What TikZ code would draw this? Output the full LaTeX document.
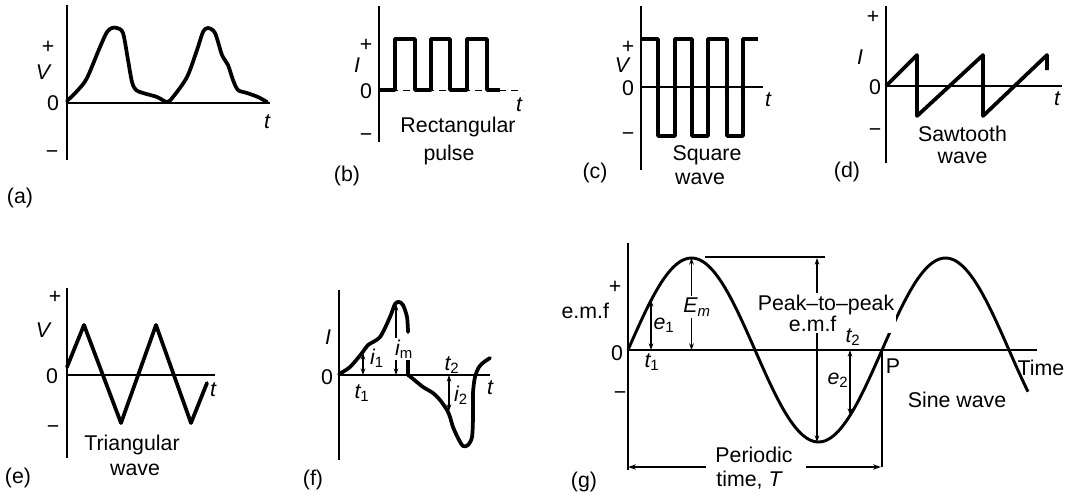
\documentclass[tikz,border=0pt]{standalone}
\usepackage{fontspec}
\setmainfont{Liberation Sans}
\usetikzlibrary{arrows.meta}
\begin{document}
\begin{tikzpicture}[x=0.75pt,y=-0.75pt,
  every node/.style={inner sep=0pt,outer sep=0pt,font=\fontsize{16}{18}\selectfont},
  axis/.style={line width=1.8pt},
  wave/.style={line width=2.8pt,line join=round,line cap=round},
  swave/.style={line width=2.2pt,line join=round},
  dim/.style={line width=0.8pt,{Stealth[length=5pt,width=3.5pt]}-{Stealth[length=5pt,width=3.5pt]}},
  tip/.style={line width=1.3pt,-{Stealth[length=6pt,width=4pt]}},
  wb/.style={fill=white,inner sep=1.2pt}
]
\useasboundingbox (0,0) rectangle (1073,494);

% ---------- (a)
\draw[axis] (67,5) -- (67,160);
\draw[axis] (67,103) -- (270,103);
\draw[wave] plot[smooth,tension=0.5] coordinates {(67,101) (78,90) (87,78) (100,47) (107,32) (112,28) (117,28) (123,33) (128,60) (132,82) (136,90) (143,93) (157,97) (167,102) (173,97) (187,77) (197,50) (203,32) (208,28) (215,33) (222,55) (228,65) (233,80) (238,90) (247,93) (258,97) (267,102)};
\node (ap) at (48,47) {+};
\node (aV) at (43,72) {\itshape V};
\node (a0) at (53,103) {0};
\node (am) at (52,155) {−};
\node (at) at (267,122) {\itshape t};
\node (alab) at (20,198) {(a)};

% ---------- (b)
\draw[axis] (379,6) -- (379,142);
\draw[line width=0.7pt,dash pattern=on 5pt off 4pt] (379,90) -- (523,90);
\draw[wave,line cap=butt] (379,90) -- (395,90) -- (395,39) -- (415,39) -- (415,90) -- (431,90) -- (431,39) -- (450,39) -- (450,90) -- (467,90) -- (467,39) -- (487,39) -- (487,90) -- (500,90);
\node (bp) at (366,45) {+};
\node (bI) at (357,65) {\itshape I};
\node (b0) at (366,91) {0};
\node (bm) at (366,138) {−};
\node (bt) at (519,105) {\itshape t};
\node (bt1) at (458,127) {Rectangular};
\node (bt2) at (449,155) {pulse};
\node (blab) at (347,176) {(b)};

% ---------- (c)
\draw[axis] (641,6) -- (641,170);
\draw[axis] (641,87) -- (763,87);
\draw[wave,line cap=butt] (641,39) -- (658,39) -- (658,136) -- (675,136) -- (675,39) -- (692,39) -- (692,136) -- (708,136) -- (708,39) -- (727,39) -- (727,136) -- (743,136) -- (743,39) -- (758,39);
\foreach \xx in {658,675,692,708,727,743} \fill (\xx,87) circle[radius=2.6];
\node (cp) at (628,47) {+};
\node (cV) at (622,65) {\itshape V};
\node (c0) at (628,88) {0};
\node (cm) at (628,137) {−};
\node (ct) at (768,100) {\itshape t};
\node (ct1) at (707,155) {Square};
\node (ct2) at (700,179) {wave};
\node (clab) at (595,173) {(c)};

% ---------- (d)
\draw[axis] (886,6) -- (886,163);
\draw[axis] (886,86) -- (1062,86);
\draw[wave,line cap=butt] (886,86) -- (917,55) -- (917,116) -- (983,55) -- (983,116) -- (1047,55) -- (1047,70);
\node (dp) at (873,17) {+};
\node (dI) at (860,57) {\itshape I};
\node (d0) at (875,87) {0};
\node (dm) at (875,133) {−};
\node (dt) at (1057,99) {\itshape t};
\node[align=center,font=\fontsize{16}{16.5}\selectfont] (dtx) at (962.5,145) {Sawtooth\\wave};
\node (dlab) at (847,172) {(d)};

% ---------- (e)
\draw[axis] (67,288) -- (67,458);
\draw[axis] (67,375) -- (215,375);
\draw[wave] (67,367) -- (84,325) -- (121,423) -- (156,325) -- (191,423) -- (207,383);
\node (ep) at (55,297) {+};
\node (eV) at (43,330) {\itshape V};
\node (e0) at (52,376) {0};
\node (em) at (53,430) {−};
\node (et) at (213,390) {\itshape t};
\node (et1) at (132,445) {Triangular};
\node (et2) at (135,470) {wave};
\node (elab) at (18,478) {(e)};

% ---------- (f)
\draw[axis] (339,290) -- (339,460);
\draw[axis] (339,375) -- (490,375);
\draw[wave] plot[smooth,tension=0.5] coordinates {(339,374) (350,367) (362,353) (368,345) (380,337) (390,317) (395,304) (399,302) (403,305) (407,317) (408,332)};
\draw[wave,line cap=butt] (408,355) -- (408,375);
\draw[wave] plot[smooth,tension=0.5] coordinates {(408,375) (412,378) (423,387) (433,393) (440,400) (447,410) (450,417) (453,427) (458,438) (463,446) (468,445) (472,437) (473,417) (473,393) (475,377) (479,367) (484,362) (490,358)};
\coordinate (fi1a) at (363,375); \coordinate (fi1b) at (363,353);
\draw[dim] (fi1a) -- (fi1b);
\coordinate (fima) at (396,375); \coordinate (fimb) at (396,304);
\draw[dim] (fima) -- (fimb);
\coordinate (fi2a) at (449,375); \coordinate (fi2b) at (449,411);
\draw[dim] (fi2a) -- (fi2b);
\node (fI) at (328,337) {\itshape I};
\node (f0) at (327,377) {0};
\node (ft1) at (362,393) {\itshape t\textsubscript{\upshape 1}};
\node (fi1) at (377,358) {\itshape i\textsubscript{\upshape 1}};
\node[wb] (fim) at (404,349) {\itshape i\textsubscript{\upshape m}};
\node (ft2) at (452,365) {\itshape t\textsubscript{\upshape 2}};
\node (fi2) at (461,395) {\itshape i\textsubscript{\upshape 2}};
\node (ft) at (490,388) {\itshape t};
\node (flab) at (313,480) {(f)};

% ---------- (g)
\draw[line width=1.6pt] (628,243) -- (628,470);
\draw[line width=1.6pt] (628,350) -- (1037,350);
\draw[swave] plot[domain=628:1028,samples=161,smooth] (\x,{350-92*sin(1.417323*(\x-628))});
\draw[line width=1.8pt] (705,257) -- (825,257);
\coordinate (gEa) at (691.5,350); \coordinate (gEb) at (691.5,258);
\draw[dim] (gEa) -- (gEb);
\coordinate (g1a) at (651,350); \coordinate (g1b) at (651,300);
\draw[dim] (g1a) -- (g1b);
\coordinate (g2a) at (850,350); \coordinate (g2b) at (850,415);
\draw[dim] (g2a) -- (g2b);
\coordinate (gpa) at (817,258); \coordinate (gpb) at (817,442);
\draw[dim] (gpa) -- (gpb);
\coordinate (gP) at (882,350); \coordinate (gPb) at (882,467);
\draw[line width=2.2pt] (gP) -- (gPb);
\coordinate (gL) at (628,467); \coordinate (gL1) at (706,467);
\coordinate (gR1) at (806,467); \coordinate (gR) at (881,467);
\draw[tip] (gL1) -- (gL);
\draw[tip] (gR1) -- (gR);
\node (gp) at (615,287) {+};
\node[anchor=east] (gemf) at (609,311) {e.m.f};
\node (g0) at (617,353) {0};
\node (gm) at (620,396) {−};
\node (gt1) at (652,362) {\itshape t\textsubscript{\upshape 1}};
\node (ge1) at (664,325) {\itshape e\textsubscript{\upshape 1}};
\node[wb] (gEm) at (697,307) {\itshape E\textsubscript{m}};
\node[wb,align=center,font=\fontsize{16}{11.5}\selectfont] (gpk) at (826,313) {Peak–to–peak\\e.m.f\rule{20pt}{0pt}};
\node (gt2) at (853,337) {\itshape t\textsubscript{\upshape 2}};
\node (ge2) at (838,380) {\itshape e\textsubscript{\upshape 2}};
\node (gPl) at (893,366) {P};
\node (gtime) at (1041,368) {Time};
\node (gsine) at (957,400) {Sine wave};
\node (gper) at (754,455) {Periodic};
\node (gper2) at (749,480) {time, \itshape T};
\node (glab) at (584,482) {(g)};
\end{tikzpicture}
\end{document}
